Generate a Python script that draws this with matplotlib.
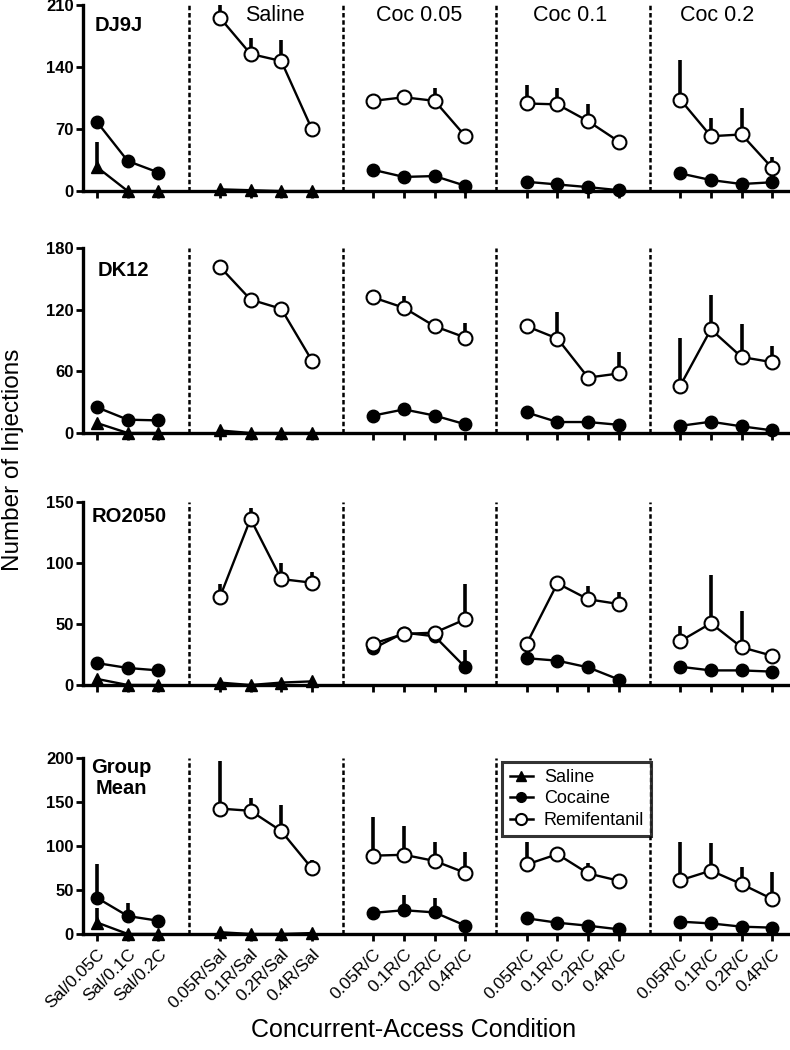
import numpy as np
import matplotlib
matplotlib.use("Agg")
import matplotlib.pyplot as plt
from matplotlib.lines import Line2D

plt.rcParams['font.family'] = ['Liberation Sans', 'DejaVu Sans']

nan = np.nan

# ---- categories ----
group_sizes = [3, 4, 4, 4, 4]
tick_labels = ["Sal/0.05C", "Sal/0.1C", "Sal/0.2C",
               "0.05R/Sal", "0.1R/Sal", "0.2R/Sal", "0.4R/Sal",
               "0.05R/C", "0.1R/C", "0.2R/C", "0.4R/C",
               "0.05R/C", "0.1R/C", "0.2R/C", "0.4R/C",
               "0.05R/C", "0.1R/C", "0.2R/C", "0.4R/C"]
group_titles = ["Saline", "Coc 0.05", "Coc 0.1", "Coc 0.2"]
panel_names = ["DJ9J", "DK12", "RO2050", "Group\nMean"]
series_names = ["Saline", "Cocaine", "Remifentanil"]

N = 12 * [nan]

# ---- DJ9J ----
dj9j_saline = [27, 0, 0, 2, 1, 0, 0] + N
dj9j_saline_sem = [28, 0, 0, 0, 0, 0, 0] + N
dj9j_cocaine = [78, 34, 21, nan, nan, nan, nan, 24, 16, 17, 6, 10.5, 7.5, 4.5, 1, 20, 12.5, 8, 10]
dj9j_cocaine_sem = [0, 0, 0, nan, nan, nan, nan, 0, 0, 0, 0, 0, 0, 0, 0, 0, 0, 0, 0]
dj9j_remi = [nan, nan, nan, 196, 155, 147, 70, 102, 106, 102, 62, 99, 98, 79, 56, 103.5, 62, 64, 26]
dj9j_remi_sem = [nan, nan, nan, 14, 18, 24, 0, 0, 0, 15, 0, 21, 18, 19, 0, 45, 21, 30, 13]

# ---- DK12 ----
dk12_saline = [9.7, 0, 0, 2.5, 0, 0, 0] + N
dk12_saline_sem = [0, 0, 0, 0, 0, 0, 0] + N
dk12_cocaine = [25, 13, 12.3, nan, nan, nan, nan, 17, 23, 17, 8.5, 20, 10.7, 10.7, 8, 7, 11, 6.5, 2.6]
dk12_cocaine_sem = [0, 0, 0, nan, nan, nan, nan, 0, 0, 0, 3, 0, 0, 0, 0, 0, 0, 0, 0]
dk12_remi = [nan, nan, nan, 162, 130, 121, 70.6, 132, 122, 104, 93, 104, 92, 54, 58, 46, 101, 74, 69]
dk12_remi_sem = [nan, nan, nan, 0, 0, 0, 0, 0, 11, 0, 14, 0, 25.5, 0, 21, 46.6, 33, 32, 16]

# ---- RO2050 ----
ro2050_saline = [5, 0, 0, 2, 0, 2, 3] + N
ro2050_saline_sem = [0, 0, 0, 0, 0, 0, 0] + N
ro2050_cocaine = [18, 14, 12, nan, nan, nan, nan, 30, 43, 40, 14.5, 22, 20, 14.5, 4.5, 15, 12, 12, 11]
ro2050_cocaine_sem = [0, 0, 0, nan, nan, nan, nan, 0, 0, 0, 14.5, 2, 0, 0, 0, 0, 0, 0, 0]
ro2050_remi = [nan, nan, nan, 72, 136.4, 87, 84, 34, 42, 43, 54, 34, 83.5, 70.4, 66.5, 36, 50.7, 31, 24]
ro2050_remi_sem = [nan, nan, nan, 11, 9, 13, 9, 3, 0, 0, 29, 0, 0, 11, 10, 12.7, 39.3, 30, 2]

# ---- Group Mean ----
mean_saline = [13, 0, 0, 2, 0, 0, 1] + N
mean_saline_sem = [16, 0, 0, 0, 0, 0, 0] + N
mean_cocaine = [41, 20.4, 15, nan, nan, nan, nan, 24, 27, 24.5, 9.5, 17.8, 12.8, 9.4, 5.3, 14, 12, 8.3, 7.2]
mean_cocaine_sem = [38, 14.6, 0, nan, nan, nan, nan, 7, 17, 16, 0, 0, 3, 0, 0, 0, 0, 0, 0]
mean_remi = [nan, nan, nan, 142.5, 140, 117, 74.5, 89, 90, 83, 69.5, 79, 90.7, 68.8, 60.5, 61, 72, 56.7, 39.7]
mean_remi_sem = [nan, nan, nan, 54, 15, 30, 9.5, 44, 33, 22, 23.5, 25.7, 0, 12, 0, 43, 31, 19, 31]

panels = [
    (dj9j_saline, dj9j_saline_sem, dj9j_cocaine, dj9j_cocaine_sem, dj9j_remi, dj9j_remi_sem),
    (dk12_saline, dk12_saline_sem, dk12_cocaine, dk12_cocaine_sem, dk12_remi, dk12_remi_sem),
    (ro2050_saline, ro2050_saline_sem, ro2050_cocaine, ro2050_cocaine_sem, ro2050_remi, ro2050_remi_sem),
    (mean_saline, mean_saline_sem, mean_cocaine, mean_cocaine_sem, mean_remi, mean_remi_sem),
]
yticks_list = [[0, 70, 140, 210], [0, 60, 120, 180], [0, 50, 100, 150], [0, 50, 100, 150, 200]]

# ---- positions ----
positions = []
groups = []
p = 0
for g in group_sizes:
    idx = list(range(len(positions), len(positions) + g))
    groups.append(idx)
    positions.extend(range(p, p + g))
    p += g + 1
positions = np.array(positions, dtype=float)
sep_positions = [positions[groups[i][-1]] + 1 for i in range(len(groups) - 1)]

fig = plt.figure(figsize=(7.9, 10.5), dpi=100)
rects = [
    (0.105, 0.818, 0.892, 0.177),
    (0.105, 0.5876, 0.892, 0.176),
    (0.105, 0.3476, 0.892, 0.174),
    (0.105, 0.1105, 0.892, 0.1676),
]
label_pos = [(0.016, 0.89, 'left'), (0.021, 0.88, 'left'), (0.012, 0.92, 'left'), (0.054, 0.886, 'center')]

styles = {
    "Saline": dict(marker='^', mfc='black', mec='black', ms=8.5),
    "Cocaine": dict(marker='o', mfc='black', mec='black', ms=9),
    "Remifentanil": dict(marker='o', mfc='white', mec='black', ms=10, mew=1.5),
}

for k, (rect, data, yt) in enumerate(zip(rects, panels, yticks_list)):
    ax = fig.add_axes(rect)
    series = [(series_names[0], data[0], data[1]),
              (series_names[1], data[2], data[3]),
              (series_names[2], data[4], data[5])]
    for zi, (name, vals, sem) in enumerate(series):
        vals = np.array(vals, dtype=float)
        sem = np.array(sem, dtype=float)
        for idx in groups:
            y = vals[idx]
            if np.all(np.isnan(y)):
                continue
            x = positions[idx]
            e = np.nan_to_num(sem[idx])
            ax.vlines(x[e > 0], y[e > 0], (y + e)[e > 0], color='black', lw=2.6,
                      zorder=2 + zi * 0.1, clip_on=False)
            ax.plot(x, y, color='black', lw=1.7, zorder=3 + zi * 0.1, clip_on=False,
                    **styles[name])
    for s in sep_positions:
        ax.axvline(s, color='black', lw=1.8, linestyle=(0, (1.8, 1.1)), zorder=1)
    ax.set_xlim(-0.46, positions[-1] + 0.5)
    ax.set_ylim(yt[0], yt[-1])
    ax.set_yticks(yt)
    ax.set_yticklabels([str(v) for v in yt], fontweight='bold', fontsize=12)
    ax.set_xticks(positions)
    if k == 3:
        ax.set_xticklabels(tick_labels, rotation=45, ha='right', rotation_mode='anchor',
                           fontsize=12.5)
    else:
        ax.set_xticklabels([])
    for sp in ['top', 'right']:
        ax.spines[sp].set_visible(False)
    for sp in ['left', 'bottom']:
        ax.spines[sp].set_linewidth(2.4)
    ax.tick_params(axis='both', direction='out', length=5, width=2, pad=1.5)
    ax.tick_params(axis='x', pad=4)
    lx, ly, ha = label_pos[k]
    ax.text(lx, ly, panel_names[k], transform=ax.transAxes, fontsize=14.5,
            fontweight='bold', ha=ha, va='center', linespacing=1.1)
    if k == 0:
        for t, xc in zip(group_titles, [5.8, 10.5, 15.4, 20.2]):
            ax.text(xc, 0.946, t, transform=ax.get_xaxis_transform(), fontsize=15.5,
                    ha='center', va='center')
    if k == 3:
        handles = [Line2D([0], [0], color='black', lw=1.8,
                          **dict(styles[n], ms=styles[n]['ms'] - 2)) for n in series_names]
        leg = ax.legend(handles, series_names, loc='upper left',
                        bbox_to_anchor=(0.59, 1.0), fontsize=13, frameon=True,
                        fancybox=False, edgecolor='black', handlelength=1.3,
                        handletextpad=0.6, labelspacing=0.25, borderpad=0.4,
                        borderaxespad=0.2)
        leg.get_frame().set_linewidth(2.2)

fig.text(0.016, 0.562, "Number of Injections", rotation=90, fontsize=17.5,
         ha='center', va='center')
fig.text(0.524, 0.019, "Concurrent-Access Condition", fontsize=18, ha='center', va='center')

fig.savefig("out.png", dpi=100)
